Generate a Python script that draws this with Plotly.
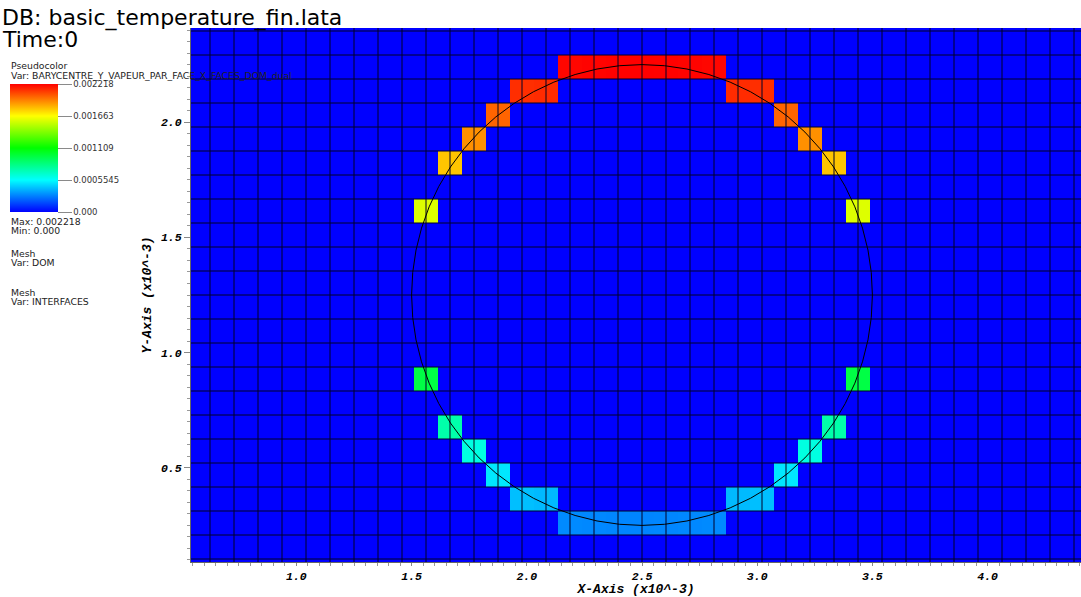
import plotly.graph_objects as go

# Domain mesh "DOM": NX x NY cells on an LX x LY box (lengths in units of 1e-3)
LX, LY = 5.0, 2.5
NX, NY = 48, 24

# Interface "INTERFACES": circle, units of 1e-3
circle_center = (2.5, 1.25)
circle_radius = 1.0

# Non-zero cells of BARYCENTRE_Y_VAPEUR_PAR_FACE_X on the face-x dual mesh
# (face index along x, row index along y, value)
face_index = [21, 22, 23, 24, 25, 26, 27,
              19, 20, 28, 29,
              18, 30,
              17, 31,
              16, 32,
              15, 33,
              15, 33,
              16, 32,
              17, 31,
              18, 30,
              19, 20, 28, 29,
              21, 22, 23, 24, 25, 26, 27]
row_index = [21, 21, 21, 21, 21, 21, 21,
             20, 20, 20, 20,
             19, 19,
             18, 18,
             17, 17,
             15, 15,
             8, 8,
             6, 6,
             5, 5,
             4, 4,
             3, 3, 3, 3,
             2, 2, 2, 2, 2, 2, 2]
bary_y = [0.002206, 0.002212, 0.002216, 0.002218, 0.002216, 0.002212, 0.002206,
          0.002118, 0.002125, 0.002125, 0.002118,
          0.002000, 0.002000,
          0.001905, 0.001905,
          0.001790, 0.001790,
          0.001590, 0.001590,
          0.000960, 0.000960,
          0.000740, 0.000740,
          0.000620, 0.000620,
          0.000505, 0.000505,
          0.000415, 0.000405, 0.000405, 0.000415,
          0.000300, 0.000296, 0.000292, 0.000290, 0.000292, 0.000296, 0.000300]

vmin, vmax = 0.0, 0.002218
cbar_ticks = [0.0, 0.0005545, 0.001109, 0.001663, 0.002218]
cbar_labels = ["0.000", "0.0005545", "0.001109", "0.001663", "0.002218"]

# visible window (units of 1e-3)
x_range = [0.542535, 4.405382]
y_range = [0.091146, 2.408854]

# "hot" pseudocolor table
hot = [[0.0, "#0000ff"], [0.25, "#00ffff"], [0.5, "#00ff00"],
       [0.75, "#ffff00"], [1.0, "#ff0000"]]

h = LX / NX
# dual cells are centred on the x faces of the DOM mesh
z = [[0.0] * (NX + 1) for _ in range(NY)]
for i, j, v in zip(face_index, row_index, bary_y):
    z[j][i] = v
x_edges = [(i - 0.5) * h for i in range(NX + 2)]
y_edges = [j * h for j in range(NY + 1)]

# DOM mesh lines
mx, my = [], []
for i in range(NX + 1):
    mx += [i * h, i * h, None]
    my += [0.0, LY, None]
for j in range(NY + 1):
    mx += [0.0, LX, None]
    my += [j * h, j * h, None]

# plot area in pixels
W, H = 1081, 597
L, R, T, B = 191, 0, 28, 35
PW, PH = W - L - R, H - T - B


def px(xpix):
    return (xpix - L) / PW


def py(ypix):
    return (H - B - ypix) / PH


fig = go.Figure()
fig.add_trace(go.Heatmap(
    x=x_edges, y=y_edges, z=z, zmin=vmin, zmax=vmax, colorscale=hot,
    zsmooth=False, hoverinfo="skip",
    colorbar=dict(
        xref="container", yref="container",
        x=10 / W, xanchor="left", y=1 - 94 / H, yanchor="top",
        len=128, lenmode="pixels", thickness=48, thicknessmode="pixels",
        xpad=0, ypad=0, outlinewidth=0,
        tickmode="array", tickvals=cbar_ticks, ticktext=cbar_labels,
        ticks="outside", ticklen=14, tickcolor="#8a8a8a", tickwidth=1,
        tickfont=dict(family="DejaVu Sans", size=8.5, color="#333333"),
    ),
))
fig.add_trace(go.Scatter(
    x=mx, y=my, mode="lines", line=dict(color="#000028", width=1),
    hoverinfo="skip", showlegend=False,
))

cx, cy = circle_center
fig.add_shape(type="circle", xref="x", yref="y",
              x0=cx - circle_radius, x1=cx + circle_radius,
              y0=cy - circle_radius, y1=cy + circle_radius,
              line=dict(color="black", width=1), layer="above")

axis_font = dict(family="Liberation Mono", size=11.5, color="black",
                 weight="bold", style="italic")
title_font = dict(family="Liberation Mono", size=13, color="black",
                  weight="bold", style="italic")

fig.update_xaxes(
    range=x_range, tickmode="linear", tick0=0, dtick=0.5, tickformat=".1f",
    ticks="outside", ticklen=3, tickcolor="#888888", tickfont=axis_font,
    minor=dict(dtick=0.05, tick0=0, ticks="outside", ticklen=3,
               tickcolor="#999999"),
    showgrid=False, zeroline=False, showline=True, linecolor="#666666",
    title=dict(text="X-Axis (x10^-3)", font=title_font, standoff=1),
    automargin=False,
)
fig.update_yaxes(
    range=y_range, tickmode="linear", tick0=0, dtick=0.5, tickformat=".1f",
    ticks="outside", ticklen=6, tickcolor="#888888", tickfont=axis_font,
    minor=dict(dtick=0.05, tick0=0, ticks="outside", ticklen=3,
               tickcolor="#999999"),
    showgrid=False, zeroline=False, showline=True, linecolor="#666666",
    title=dict(text="Y-Axis (x10^-3)", font=title_font, standoff=6),
    automargin=False,
)

big = dict(family="DejaVu Sans", size=22, color="black")
small = dict(family="DejaVu Sans", size=9.3, color="#222222")
texts = [
    ("DB: basic_temperature_fin.lata", 1, 17.5, big),
    ("Time:0", 1, 39.5, big),
    ("Pseudocolor", 10, 65.5, small),
    ("Var: BARYCENTRE_Y_VAPEUR_PAR_FACE_X_FACES_DOM_dual", 10, 75.5, small),
    ("Max: 0.002218", 10, 221.5, small),
    ("Min: 0.000", 10, 230.5, small),
    ("Mesh", 10, 253, small),
    ("Var: DOM", 10, 262, small),
    ("Mesh", 10, 292, small),
    ("Var: INTERFACES", 10, 301, small),
]
for txt, xpix, ypix, f in texts:
    fig.add_annotation(text=txt, xref="paper", yref="paper",
                       x=px(xpix), y=py(ypix), xanchor="left",
                       yanchor="middle", showarrow=False, font=f,
                       borderpad=0)

fig.update_layout(
    width=W, height=H,
    margin=dict(l=L, r=R, t=T, b=B),
    paper_bgcolor="white", plot_bgcolor="white",
    showlegend=False,
)

fig.write_html("out.html")
